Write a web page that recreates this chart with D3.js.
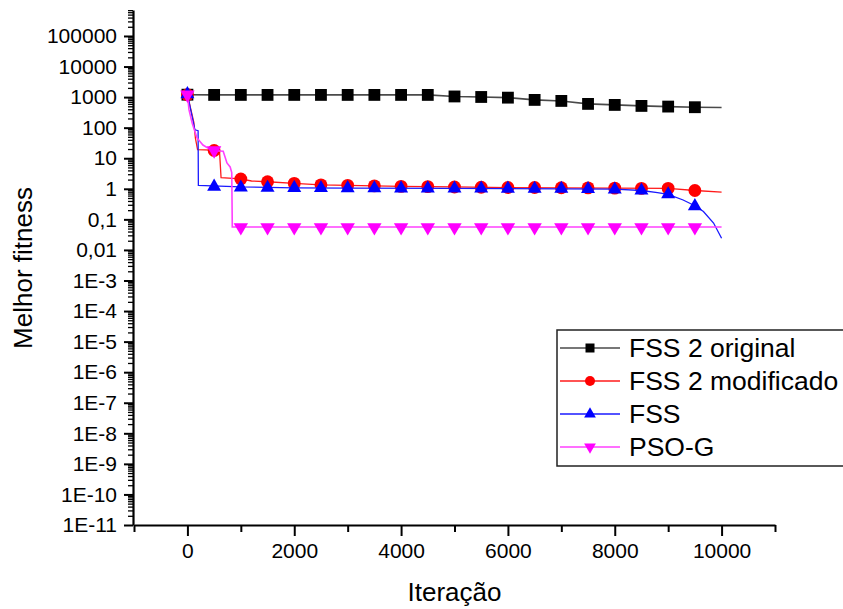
<!DOCTYPE html>
<html>
<head>
<meta charset="utf-8">
<script src="https://cdn.jsdelivr.net/npm/d3@7"></script>
<style>
  html, body { margin: 0; padding: 0; background: #fff; overflow: hidden; }
  svg { display: block; font-family: "Liberation Sans", Arial, sans-serif; }
</style>
</head>
<body>
<svg id="chart" width="843" height="609"></svg>
<script>
// Iterations where markers are placed
const markerIter = [0, 500, 1000, 1500, 2000, 2500, 3000, 3500, 4000, 4500,
                    5000, 5500, 6000, 6500, 7000, 7500, 8000, 8500, 9000, 9500];

// Best fitness at each marker iteration
const fss2Original   = [1200, 1180, 1180, 1180, 1180, 1180, 1180, 1180, 1180, 1180,
                        1050, 1010, 960, 810, 750, 600, 555, 515, 490, 467];
const fss2Modificado = [1200, 18, 2.1, 1.7, 1.5, 1.35, 1.3, 1.25, 1.2, 1.18,
                        1.15, 1.12, 1.1, 1.1, 1.08, 1.07, 1.05, 1.03, 1.03, 0.88];
const fss            = [1250, 1.18, 1.1, 1.08, 1.07, 1.06, 1.05, 1.04, 1.03, 1.03,
                        1.02, 1.02, 1.01, 1.0, 1.0, 0.98, 0.95, 0.88, 0.66, 0.27];
const psoG           = [1200, 18, 0.055, 0.055, 0.055, 0.055, 0.055, 0.055, 0.055, 0.055,
                        0.055, 0.055, 0.055, 0.055, 0.055, 0.055, 0.055, 0.055, 0.055, 0.055];

// Full convergence traces [iteration, fitness]
const fss2OriginalLine = [[0,1200],[500,1180],[4500,1180],[5000,1050],[5500,1010],[6000,960],
                          [6500,810],[7000,750],[7500,600],[8000,555],[8500,515],[9000,490],
                          [9500,467],[10000,455]];
const fss2ModificadoLine = [[0,1200],[120,150],[150,45],[190,19],[600,18],[630,2.3],[1000,2.1],
                            [1200,1.8],[1500,1.7],[2000,1.5],[2500,1.35],[3000,1.3],[4000,1.2],
                            [5000,1.15],[6000,1.1],[7000,1.08],[8000,1.05],[9000,1.03],
                            [9500,0.88],[10000,0.78]];
const fssLine = [[0,1250],[140,85],[200,80],[205,1.3],[1000,1.15],[2000,1.08],[3000,1.05],
                 [5000,1.03],[7000,1.0],[8000,0.97],[8500,0.88],[8800,0.75],[9000,0.66],
                 [9280,0.43],[9500,0.28],[9660,0.18],[9850,0.076],[10000,0.024]];
const psoGLine = [[0,1200],[30,380],[90,140],[180,46],[290,27],[460,18],[670,17],[740,7],
                  [800,5.2],[830,3.4],[840,0.056],[10000,0.056]];

// Axis ticks and labels
const xTicks = [0, 2000, 4000, 6000, 8000, 10000];
const xMinorTicks = [-1000, 1000, 3000, 5000, 7000, 9000, 11000];
const yTicks = [1e-11, 1e-10, 1e-9, 1e-8, 1e-7, 1e-6, 1e-5, 1e-4, 1e-3, 1e-2, 1e-1, 1, 10, 100, 1000, 10000, 100000];
const yTickLabels = ["1E-11", "1E-10", "1E-9", "1E-8", "1E-7", "1E-6", "1E-5", "1E-4", "1E-3",
                     "0,01", "0,1", "1", "10", "100", "1000", "10000", "100000"];

const seriesNames = ["FSS 2 original", "FSS 2 modificado", "FSS", "PSO-G"];

const svg = d3.select("#chart");

const x = d3.scaleLinear().domain([-1000, 11000]).range([134, 775]);
const y = d3.scaleLog().domain([1e-11, 7.08e5]).range([525, 10]);

// Minor log ticks: 2..9 per decade
const yMinor = [];
for (let e = -11; e <= 5; e++) {
  for (let m = 2; m <= 9; m++) {
    const v = m * Math.pow(10, e);
    if (v <= y.domain()[1]) yMinor.push(v);
  }
}

// Y axis
const yMinorAxis = svg.append("g").attr("transform", "translate(133,0)")
  .call(d3.axisLeft(y).tickValues(yMinor).tickFormat("").tickSize(5).tickSizeOuter(0));
yMinorAxis.select(".domain").remove();
yMinorAxis.selectAll("line").attr("stroke", "#000").attr("stroke-width", 1.3);

const yAxis = svg.append("g").attr("transform", "translate(133,0)")
  .call(d3.axisLeft(y).tickValues(yTicks).tickFormat((d, i) => yTickLabels[i])
        .tickSize(9).tickSizeOuter(0).tickPadding(7));
yAxis.select(".domain").attr("stroke", "#000").attr("stroke-width", 2.2);
yAxis.selectAll("line").attr("stroke", "#000").attr("stroke-width", 2);
yAxis.selectAll("text").attr("font-size", 21).attr("fill", "#000")
  .attr("font-family", "'Liberation Sans', Arial, sans-serif");

// X axis
const xMinorAxis = svg.append("g").attr("transform", "translate(0,525)")
  .call(d3.axisBottom(x).tickValues(xMinorTicks).tickFormat("").tickSize(7).tickSizeOuter(0));
xMinorAxis.select(".domain").remove();
xMinorAxis.selectAll("line").attr("stroke", "#000").attr("stroke-width", 2);

const xAxis = svg.append("g").attr("transform", "translate(0,525)")
  .call(d3.axisBottom(x).tickValues(xTicks).tickFormat(d3.format("d"))
        .tickSize(11).tickSizeOuter(0).tickPadding(7));
xAxis.select(".domain").attr("stroke", "#000").attr("stroke-width", 2.2);
xAxis.selectAll("line").attr("stroke", "#000").attr("stroke-width", 2);
xAxis.selectAll("text").attr("font-size", 21).attr("fill", "#000")
  .attr("font-family", "'Liberation Sans', Arial, sans-serif");

// Axis titles
svg.append("text").attr("x", 454.5).attr("y", 601).attr("text-anchor", "middle")
  .attr("font-size", 26).text("Iteração");
svg.append("text").attr("transform", "translate(32,268) rotate(-90)").attr("text-anchor", "middle")
  .attr("font-size", 26).text("Melhor fitness");

// Series definitions
const series = [
  { name: seriesNames[0], line: fss2OriginalLine,   values: fss2Original,   color: "#000000", lineColor: "#4a4a4a", symbol: d3.symbolSquare,   size: 140, rot: 0,   lw: 1.6 },
  { name: seriesNames[1], line: fss2ModificadoLine, values: fss2Modificado, color: "#ff0000", lineColor: "#ff1a1a", symbol: d3.symbolCircle,   size: 130, rot: 0,   lw: 1.3 },
  { name: seriesNames[2], line: fssLine,            values: fss,            color: "#0000ff", lineColor: "#1a1aff", symbol: d3.symbolTriangle, size: 85,  rot: 0,   lw: 1.3 },
  { name: seriesNames[3], line: psoGLine,           values: psoG,           color: "#ff00ff", lineColor: "#ff40ff", symbol: d3.symbolTriangle, size: 90,  rot: 180, lw: 1.6 }
];

const lineGen = d3.line().x(d => x(d[0])).y(d => y(d[1]));

series.forEach(s => {
  const g = svg.append("g");
  g.append("path").attr("d", lineGen(s.line)).attr("fill", "none")
    .attr("stroke", s.lineColor).attr("stroke-width", s.lw);
  g.selectAll("path.mk").data(s.values).enter().append("path").attr("class", "mk")
    .attr("d", d3.symbol().type(s.symbol).size(s.size))
    .attr("transform", (d, i) => `translate(${x(markerIter[i])},${y(d)}) rotate(${s.rot})`)
    .attr("fill", s.color);
});

// Legend (box runs past the right edge of the figure)
const legend = svg.append("g");
legend.append("rect").attr("x", 557).attr("y", 330).attr("width", 340).attr("height", 136)
  .attr("fill", "#fff").attr("stroke", "#222").attr("stroke-width", 1.5);
const legendSizes = [81, 78, 60, 60];
series.forEach((s, i) => {
  const cy = 348 + i * 33;
  legend.append("line").attr("x1", 560).attr("x2", 620).attr("y1", cy).attr("y2", cy)
    .attr("stroke", s.lineColor).attr("stroke-width", 1.3);
  legend.append("path").attr("d", d3.symbol().type(s.symbol).size(legendSizes[i]))
    .attr("transform", `translate(590,${cy}) rotate(${s.rot})`).attr("fill", s.color);
  legend.append("text").attr("x", 629).attr("y", cy + 9).attr("font-size", 26.5)
    .attr("fill", "#000").text(s.name);
});
</script>
</body>
</html>
